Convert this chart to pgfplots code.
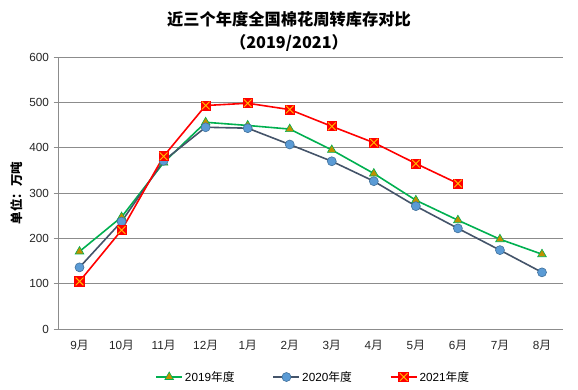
\documentclass[border=0pt]{standalone}
\usepackage{pgfplots}
\pgfplotsset{compat=1.18}
\usepackage{fontspec}
\setmainfont{Liberation Sans}
\newfontfamily\cjk{Noto Sans CJK SC}
\newcommand\yue{{\cjk 月}}
\definecolor{gline}{HTML}{00B050}
\definecolor{gfill}{HTML}{BF9000}
\definecolor{bline}{HTML}{44546A}
\definecolor{bfill}{HTML}{5B9BD5}
\definecolor{bedge}{HTML}{41719C}
\definecolor{rline}{HTML}{FF0000}
\definecolor{rx}{HTML}{FFC000}
\definecolor{gridc}{HTML}{8C8C8C}
\pgfdeclareplotmark{sqx}{%
  \pgfpathrectangle{\pgfpoint{-\pgfplotmarksize}{-\pgfplotmarksize}}{\pgfpoint{2\pgfplotmarksize}{2\pgfplotmarksize}}%
  \pgfsetfillcolor{rline}\pgfsetstrokecolor{rline}\pgfusepathqfillstroke
  \pgfsetlinewidth{0.9bp}\pgfsetstrokecolor{rx}%
  \pgfpathmoveto{\pgfpoint{-0.85\pgfplotmarksize}{-0.85\pgfplotmarksize}}%
  \pgfpathlineto{\pgfpoint{0.85\pgfplotmarksize}{0.85\pgfplotmarksize}}%
  \pgfpathmoveto{\pgfpoint{-0.85\pgfplotmarksize}{0.85\pgfplotmarksize}}%
  \pgfpathlineto{\pgfpoint{0.85\pgfplotmarksize}{-0.85\pgfplotmarksize}}%
  \pgfusepathqstroke
}
\begin{document}
\begin{tikzpicture}[x=1bp,y=1bp]
\path[use as bounding box] (0,0) rectangle (578,389);
\node[font=\cjk\bfseries\fontsize{16.3}{19}\selectfont] at (289,370) {近三个年度全国棉花周转库存对比};
\node[font=\cjk\bfseries\fontsize{16.3}{19}\selectfont] at (289,346) {（2019/2021）};
\node[rotate=90,font=\cjk\bfseries\fontsize{12.5}{14}\selectfont] at (17,196) {单位：万吨};
\begin{axis}[
  at={(58.5bp,60bp)}, anchor=south west,
  scale only axis, width=504.5bp, height=272bp,
  xmin=-0.5, xmax=11.5, ymin=0, ymax=600,
  ytick={0,100,...,600},
  xtick={0,...,11},
  xticklabels={9\yue,10\yue,11\yue,12\yue,1\yue,2\yue,3\yue,4\yue,5\yue,6\yue,7\yue,8\yue},
  ymajorgrids, grid style={gridc, line width=0.8bp},
  axis x line*=bottom, axis y line*=left,
  axis line style={gridc, line width=0.8bp, -},
  x axis line style={draw=gridc},
  xtick style={draw=none},
  ytick style={gridc, line width=0.8bp},
  tick align=outside, major tick length=5bp,
  tick label style={font=\fontsize{11.8}{13}\selectfont, text=black!85},
  yticklabel style={xshift=-1bp},
  xticklabel style={yshift=-3bp},
  /pgf/number format/assume math mode=true,
  legend style={at={(0.505,-0.1765)}, anchor=center, draw=none, legend columns=3,
    font=\fontsize{11.8}{13}\selectfont,
    /tikz/every even column/.append style={column sep=36bp}},
  legend image code/.code={\draw[mark repeat=2,mark phase=2,#1] plot coordinates {(0bp,0bp) (13bp,0bp) (26bp,0bp)};},
  clip=false,
]
\addplot[gline, line width=1.6bp, mark=triangle*, mark size=5bp, mark options={fill=gfill, draw=gline, line width=0.6bp}]
coordinates {(0,171)(1,247)(2,367)(3,456)(4,449)(5,441)(6,395)(7,343)(8,284)(9,240)(10,198)(11,165)};
\addlegendentry{2019{\cjk 年度}}
\addplot[bline, line width=1.6bp, mark=*, mark size=4.5bp, mark options={fill=bfill, draw=bedge, line width=0.6bp}]
coordinates {(0,136)(1,237)(2,371)(3,445)(4,443)(5,407)(6,370)(7,326)(8,271)(9,222)(10,174)(11,125)};
\addlegendentry{2020{\cjk 年度}}
\addplot[rline, line width=1.6bp, mark=sqx, mark size=4.5bp]
coordinates {(0,105)(1,218)(2,381)(3,493)(4,498)(5,484)(6,447)(7,411)(8,365)(9,321)};
\addlegendentry{2021{\cjk 年度}}
\end{axis}
\end{tikzpicture}
\end{document}
